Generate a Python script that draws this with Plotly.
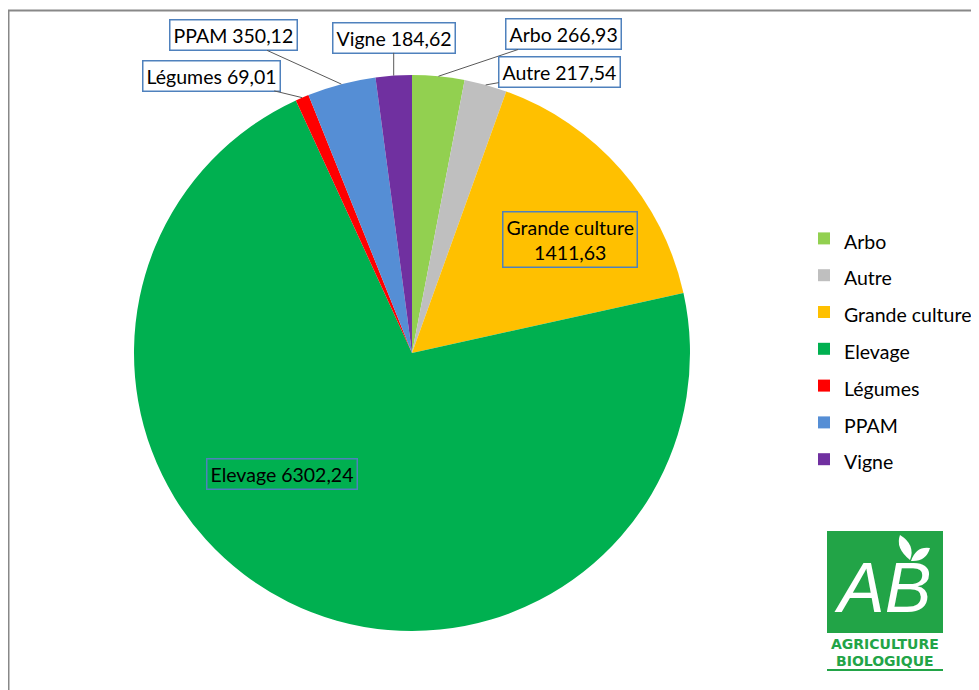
import math
import plotly.graph_objects as go

# page is 979x690, the figure sits inside the default 8px body margin
OFF = 8
W, H = 979 - OFF, 690 - OFF

# surfaces par filière
categories = ["Arbo", "Autre", "Grande culture", "Elevage", "Légumes", "PPAM", "Vigne"]
surfaces = [266.93, 217.54, 1411.63, 6302.24, 69.01, 350.12, 184.62]
colors = ["#92D050", "#BFBFBF", "#FFC000", "#00B050", "#FF0000", "#558ED5", "#7030A0"]

# pie geometry in page pixels
CX, CY, R = 412, 353, 278

# label placement: ("out", ax, ay) -> box with leader line; ("in", frac, xshift, yshift)
placement = {
    "Arbo": ("out", 125, -42),
    "Autre": ("out", 74, -13),
    "Grande culture": ("in", 0.7, 12, -15),
    "Elevage": ("in", 0.5, -68, 3),
    "Légumes": ("out", -91, -22),
    "PPAM": ("out", -108, -49),
    "Vigne": ("out", 0, -38),
}


def px_x(x):
    return (x - OFF) / W


def px_y(y):
    return 1 - (y - OFF) / H


def fmt(v):
    return f"{v:.2f}".replace(".", ",")


FONT = "Lato, Carlito, Calibri, sans-serif"
FS = 19.5
BOX = "#4F81BD"

fig = go.Figure()
fig.add_trace(go.Pie(
    labels=[f'<span style="font-size:{FS}px">{c}</span>' for c in categories],
    values=surfaces,
    customdata=categories,
    hovertemplate="%{customdata}: %{value}<extra></extra>",
    marker=dict(colors=colors, line=dict(width=0)),
    sort=False,
    direction="clockwise",
    rotation=0,
    textinfo="none",
    domain=dict(x=[px_x(CX - R), px_x(CX + R)], y=[px_y(CY + R), px_y(CY - R)]),
))

total = sum(surfaces)
cum = 0
annotations = []
for cat, v in zip(categories, surfaces):
    mid = (cum + v / 2) / total * 2 * math.pi
    cum += v
    p = placement[cat]
    if p[0] == "out":
        x = CX + R * math.sin(mid)
        y = CY - R * math.cos(mid)
        annotations.append(dict(
            x=px_x(x), y=px_y(y), xref="paper", yref="paper",
            text=f"{cat} {fmt(v)}", showarrow=True, arrowhead=0, arrowwidth=1,
            arrowcolor="#595959", ax=p[1], ay=p[2], standoff=0,
            bgcolor="white", bordercolor=BOX, borderwidth=1.5, borderpad=3,
            font=dict(family=FONT, size=FS, color="black"),
        ))
    else:
        x = CX + R * p[1] * math.sin(mid)
        y = CY - R * p[1] * math.cos(mid)
        text = f"{cat}<br>{fmt(v)}" if cat == "Grande culture" else f"{cat} {fmt(v)}"
        annotations.append(dict(
            x=px_x(x), y=px_y(y), xref="paper", yref="paper",
            xanchor="center", yanchor="middle",
            text=text, showarrow=False, xshift=p[2], yshift=p[3],
            bordercolor=BOX, borderwidth=1.5, borderpad=3,
            font=dict(family=FONT, size=FS, color="black"),
        ))

# logo AB
GREEN = "#22A447"
logo_text = dict(xref="paper", yref="paper", xanchor="center", yanchor="middle", showarrow=False)
annotations += [
    dict(x=px_x(882), y=px_y(588), text="AB",
         font=dict(family="Liberation Sans", size=70, color="white", style="italic"), **logo_text),
    dict(x=px_x(885), y=px_y(644), text="<b>AGRICULTURE</b>",
         font=dict(family="DejaVu Sans", size=14, color=GREEN), **logo_text),
    dict(x=px_x(885), y=px_y(661), text="<b>BIOLOGIQUE</b>",
         font=dict(family="DejaVu Sans", size=14, color=GREEN), **logo_text),
]


def path(pts):
    s = ""
    for cmd, coords in pts:
        s += cmd + " ".join(f"{px_x(a):.5f},{px_y(b):.5f}" for a, b in coords) + " "
    return s + "Z"


shapes = [
    dict(type="rect", xref="paper", yref="paper", x0=px_x(827), x1=px_x(943),
         y0=px_y(633), y1=px_y(531), fillcolor=GREEN, line=dict(width=0), layer="below"),
    dict(type="path", xref="paper", yref="paper", fillcolor="white", line=dict(width=0),
         path=path([("M", [(910, 560)]), ("Q", [(895, 548), (900, 535)]), ("Q", [(916, 545), (910, 560)])])),
    dict(type="path", xref="paper", yref="paper", fillcolor="white", line=dict(width=0),
         path=path([("M", [(911, 561)]), ("Q", [(916, 546), (930, 548)]), ("Q", [(926, 562), (911, 561)])])),
    dict(type="line", xref="paper", yref="paper", x0=px_x(827), x1=px_x(943),
         y0=px_y(670), y1=px_y(670), line=dict(color=GREEN, width=2)),
    # cadre
    dict(type="line", xref="paper", yref="paper", x0=px_x(8.5), x1=px_x(8.5),
         y0=0, y1=px_y(10), line=dict(color="#888888", width=2)),
    dict(type="line", xref="paper", yref="paper", x0=px_x(8), x1=1,
         y0=px_y(10.5), y1=px_y(10.5), line=dict(color="#888888", width=2)),
]

fig.update_layout(
    width=W, height=H,
    margin=dict(l=0, r=0, t=0, b=0),
    paper_bgcolor="white",
    showlegend=True,
    legend=dict(x=px_x(804), y=px_y(215), xanchor="left", yanchor="top",
                font=dict(family=FONT, size=26, color="black"), bgcolor="rgba(0,0,0,0)"),
    annotations=annotations,
    shapes=shapes,
)

fig.write_html("out.html")
